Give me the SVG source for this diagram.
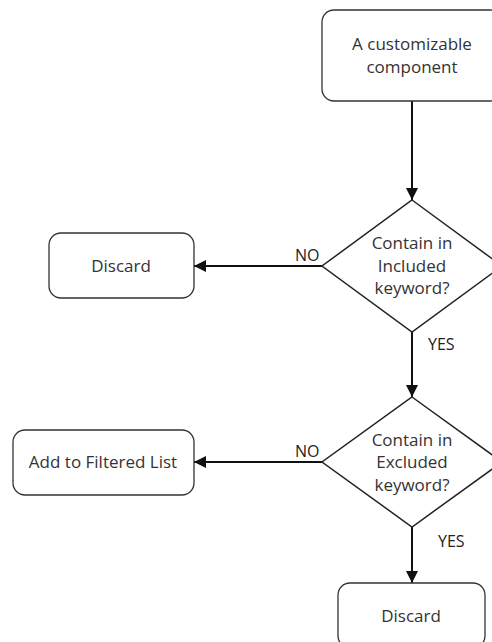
<svg xmlns="http://www.w3.org/2000/svg" width="492" height="642" viewBox="0 0 492 642">
  <style>
    .box { fill: #ffffff; stroke: #333333; stroke-width: 1.3; }
    .dia { fill: #ffffff; stroke: #222222; stroke-width: 1.5; }
    .lbl { font-family: "Open Sans", "Noto Sans", sans-serif; font-size: 17px; fill: #333333; text-anchor: middle; }
    .edge-lbl { font-family: "Open Sans", "Noto Sans", sans-serif; font-size: 16px; fill: #222222; }
    .wire { stroke: #111111; stroke-width: 2; fill: none; marker-end: url(#head); }
  </style>
  <defs>
    <marker id="head" viewBox="0 0 10 10" refX="10" refY="5" markerWidth="6" markerHeight="6" orient="auto" markerUnits="strokeWidth">
      <path d="M0,0 L10,5 L0,10 Z" fill="#111111"/>
    </marker>
  </defs>
  <rect width="492" height="642" fill="#ffffff"/>

  <g id="connectors">
    <line class="wire" x1="412" y1="101" x2="412" y2="200"/>
    <line class="wire" x1="322" y1="266" x2="194" y2="266"/>
    <line class="wire" x1="412" y1="332" x2="412" y2="397"/>
    <line class="wire" x1="322" y1="462" x2="194" y2="462"/>
    <line class="wire" x1="412" y1="527" x2="412" y2="583"/>
    <text class="edge-lbl" x="295" y="261">NO</text>
    <text class="edge-lbl" x="428" y="350">YES</text>
    <text class="edge-lbl" x="295" y="457">NO</text>
    <text class="edge-lbl" x="438" y="547">YES</text>
  </g>

  <g id="start">
    <rect class="box" x="322" y="10" width="180" height="91" rx="12"/>
    <text class="lbl" x="412" y="50">A customizable</text>
    <text class="lbl" x="412" y="73">component</text>
  </g>

  <g id="check-included">
    <polygon class="dia" points="412,200 502,266 412,332 322,266"/>
    <text class="lbl" x="412" y="249">Contain in</text>
    <text class="lbl" x="412" y="272">Included</text>
    <text class="lbl" x="412" y="294">keyword?</text>
  </g>

  <g id="discard-1">
    <rect class="box" x="49" y="233" width="145" height="65" rx="12"/>
    <text class="lbl" x="121" y="272">Discard</text>
  </g>

  <g id="check-excluded">
    <polygon class="dia" points="412,397 502,462 412,527 322,462"/>
    <text class="lbl" x="412" y="446">Contain in</text>
    <text class="lbl" x="412" y="468">Excluded</text>
    <text class="lbl" x="412" y="491">keyword?</text>
  </g>

  <g id="filtered-list">
    <rect class="box" x="13" y="430" width="181" height="65" rx="12"/>
    <text class="lbl" x="103" y="468">Add to Filtered List</text>
  </g>

  <g id="discard-2">
    <rect class="box" x="338" y="583" width="147" height="65" rx="12"/>
    <text class="lbl" x="411" y="622">Discard</text>
  </g>
</svg>
